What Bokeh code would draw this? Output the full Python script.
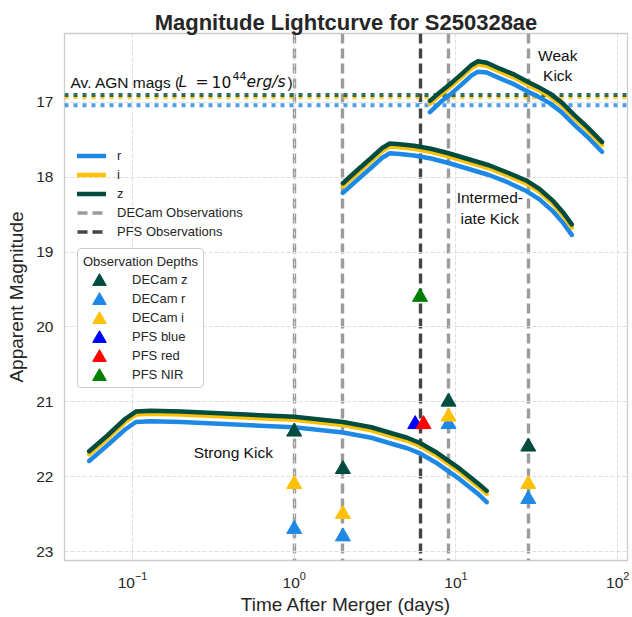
from bokeh.plotting import figure
from bokeh.models import Range1d, Span, Label, Legend, LegendItem, FixedTicker
from bokeh.embed import file_html
from bokeh.resources import INLINE

# ---------------- data ----------------
strong_t = [0.054, 0.07, 0.09, 0.105, 0.13, 0.2, 0.4, 1.0, 2.0, 3.0, 4.0, 5.0, 6.0, 7.5, 9.0, 10.5, 12.0, 13.7, 15.5]
strong_z = [21.66, 21.45, 21.23, 21.13, 21.12, 21.13, 21.16, 21.20, 21.27, 21.34, 21.42, 21.48, 21.55, 21.67, 21.79, 21.89, 21.99, 22.09, 22.19]
strong_i = [21.70, 21.49, 21.27, 21.17, 21.16, 21.17, 21.20, 21.24, 21.31, 21.38, 21.46, 21.52, 21.59, 21.71, 21.83, 21.93, 22.03, 22.13, 22.23]
strong_r = [21.79, 21.58, 21.37, 21.27, 21.26, 21.27, 21.30, 21.34, 21.41, 21.48, 21.56, 21.62, 21.69, 21.81, 21.93, 22.03, 22.13, 22.23, 22.34]

inter_t = [2.0, 2.5, 3.0, 3.5, 3.9, 4.5, 5.5, 7.0, 9.0, 12.0, 16.0, 21.0, 27.0, 33.0, 40.0, 46.0, 52.0]
inter_z = [18.08, 17.89, 17.74, 17.61, 17.55, 17.56, 17.58, 17.62, 17.68, 17.76, 17.84, 17.94, 18.04, 18.16, 18.32, 18.47, 18.63]
inter_i = [18.12, 17.93, 17.78, 17.65, 17.59, 17.60, 17.62, 17.66, 17.72, 17.80, 17.88, 17.98, 18.08, 18.20, 18.36, 18.51, 18.67]
inter_r = [18.21, 18.02, 17.87, 17.74, 17.68, 17.69, 17.71, 17.75, 17.81, 17.89, 17.97, 18.07, 18.18, 18.30, 18.46, 18.61, 18.77]

weak_t = [6.9, 8.0, 9.5, 11.0, 12.5, 13.7, 15.5, 18.7, 23.0, 27.0, 32.0, 38.0, 45.0, 54.0, 65.0, 80.0]
weak_z = [16.98, 16.86, 16.73, 16.61, 16.50, 16.45, 16.47, 16.55, 16.63, 16.71, 16.79, 16.88, 17.00, 17.17, 17.33, 17.53]
weak_i = [17.02, 16.90, 16.77, 16.65, 16.54, 16.49, 16.51, 16.59, 16.67, 16.75, 16.83, 16.92, 17.04, 17.21, 17.37, 17.57]
weak_r = [17.13, 17.00, 16.87, 16.75, 16.64, 16.59, 16.60, 16.68, 16.76, 16.84, 16.92, 17.01, 17.13, 17.30, 17.46, 17.66]

agn_z, agn_i, agn_r = 16.90, 16.93, 17.04

decam_t = [1.0, 2.0, 9.0, 28.0]
decam_z = [21.4, 21.9, 21.0, 21.6]
decam_r = [22.7, 22.8, 21.3, 22.3]
decam_i = [22.1, 22.5, 21.2, 22.1]

pfs_obs_t = [6.0]
pfs_blue_t, pfs_blue_m = [5.6], [21.3]
pfs_red_t, pfs_red_m = [6.3], [21.3]
pfs_nir_t, pfs_nir_m = [6.0], [19.6]

x_ticks = [0.1, 1, 10, 100]
y_ticks = [17, 18, 19, 20, 21, 22, 23]

# ---------------- style ----------------
C_R, C_I, C_Z = "#1E88E5", "#FFC107", "#004D40"
FONT = "Liberation Sans"
MATH = "DejaVu Sans"
TXT = "#262626"

p = figure(width=632, height=617, x_axis_type="log",
           x_range=Range1d(0.038, 115), y_range=Range1d(23.12, 16.08),
           output_backend="svg", toolbar_location=None,
           min_border_left=64, min_border_right=5, min_border_top=33, min_border_bottom=54)

p.title.text = "Magnitude Lightcurve for S250328ae"
p.title.text_font = FONT
p.title.text_font_size = "22px"
p.title.text_font_style = "bold"
p.title.text_color = TXT
p.title.align = "center"
p.title.standoff = -2

p.outline_line_color = "#cccccc"
p.outline_line_width = 1.3
p.background_fill_color = "white"

p.xaxis.ticker = FixedTicker(ticks=x_ticks)
p.yaxis.ticker = FixedTicker(ticks=y_ticks)
for ax in (p.xaxis[0], p.yaxis[0]):
    ax.axis_line_color = None
    ax.major_tick_line_color = None
    ax.minor_tick_line_color = None
    ax.major_tick_out = 0
    ax.major_tick_in = 0
    ax.minor_tick_out = 0
    ax.minor_tick_in = 0
    ax.major_label_text_font = FONT
    ax.major_label_text_font_size = "15.5px"
    ax.major_label_text_color = TXT
    ax.axis_label_text_font = FONT
    ax.axis_label_text_font_size = "19px"
    ax.axis_label_text_font_style = "normal"
    ax.axis_label_text_color = TXT
p.xaxis.axis_label = "Time After Merger (days)"
p.yaxis.axis_label = "Apparent Magnitude"
p.xaxis.major_label_standoff = 11
p.xaxis.axis_label_standoff = 3
p.yaxis.major_label_standoff = 11
p.yaxis.axis_label_standoff = 6

p.grid.grid_line_color = "#dedede"
p.grid.grid_line_dash = "4 2"
p.grid.grid_line_width = 1

# horizontal AGN lines
for m, c in ((agn_r, C_R), (agn_i, C_I), (agn_z, C_Z)):
    p.add_layout(Span(location=m, dimension="width", line_color=c, line_width=4,
                      line_alpha=0.8, line_dash="4 5", level="underlay"))

# vertical observation lines (glyphs, so they can appear in the legend)
DEC_COL, PFS_COL = "#9c9c9c", "#454545"
dec_lines = p.vspan(x=decam_t, line_color=DEC_COL, line_width=3.4, line_dash="10 5", level="underlay")
pfs_lines = p.vspan(x=pfs_obs_t, line_color=PFS_COL, line_width=3.4, line_dash="10 5", level="underlay")

# light curves
lines = {}
for t, rr, ii, zz in ((strong_t, strong_r, strong_i, strong_z),
                      (inter_t, inter_r, inter_i, inter_z),
                      (weak_t, weak_r, weak_i, weak_z)):
    lines["r"] = p.line(t, rr, line_color=C_R, line_width=4.5, line_cap="round", line_join="round")
    lines["i"] = p.line(t, ii, line_color=C_I, line_width=4.5, line_cap="round", line_join="round")
    lines["z"] = p.line(t, zz, line_color=C_Z, line_width=4.5, line_cap="round", line_join="round")

# observation depth markers
TS = 15
s_dz = p.scatter(decam_t, decam_z, marker="triangle", size=TS, color=C_Z)
s_dr = p.scatter(decam_t, decam_r, marker="triangle", size=TS, color=C_R)
s_di = p.scatter(decam_t, decam_i, marker="triangle", size=TS, color=C_I)
s_pb = p.scatter(pfs_blue_t, pfs_blue_m, marker="triangle", size=TS, color="#0000ff")
s_pr = p.scatter(pfs_red_t, pfs_red_m, marker="triangle", size=TS, color="#ff0000")
s_pn = p.scatter(pfs_nir_t, pfs_nir_m, marker="triangle", size=TS, color="#008000")

# text annotations
def lab(x, y, text, align="center", font=FONT, size="15.5px", style="normal",
        xo=0, yo=0, baseline="middle"):
    p.add_layout(Label(x=x, y=y, text=text, text_font=font, text_font_size=size,
                       text_font_style=style, text_color="#111111", text_align=align,
                       text_baseline=baseline, x_offset=xo, y_offset=yo))

lab(42.6, 16.51, "Weak\nKick")
lab(16.2, 18.41, "Intermed-\niate Kick")
lab(0.42, 21.68, "Strong Kick")

# AGN label, composed of pieces (plain + math-style italics + superscript)
ax0, ay0 = 0.0414, 16.73
lab(ax0, ay0, "Av. AGN mags (", align="left")
lab(ax0, ay0, "L", align="left", font=MATH, style="italic", xo=108)
lab(ax0, ay0, "=", align="left", font=MATH, xo=125)
lab(ax0, ay0, "10", align="left", font=MATH, xo=141)
lab(ax0, ay0, "44", align="left", font=MATH, size="11px", xo=162, yo=6)
lab(ax0, ay0, "erg/s", align="left", font=MATH, style="italic", xo=176)
lab(ax0, ay0, ")", align="left", xo=217)

# legend 1 (lines)
leg1 = Legend(items=[LegendItem(label="r", renderers=[lines["r"]]),
                     LegendItem(label="i", renderers=[lines["i"]]),
                     LegendItem(label="z", renderers=[lines["z"]]),
                     LegendItem(label="DECam Observations", renderers=[dec_lines]),
                     LegendItem(label="PFS Observations", renderers=[pfs_lines])],
              location=(13, 321), glyph_width=29, glyph_height=15, label_height=15,
              spacing=4, label_standoff=11, padding=0, margin=0,
              border_line_alpha=0, background_fill_alpha=0,
              label_text_font=FONT, label_text_font_size="13px", label_text_color=TXT)
p.add_layout(leg1)

# legend 2 (markers): frame/title/labels legend + two glyph-only legends for larger keys
labels2 = ["DECam z", "DECam r", "DECam i", "PFS blue", "PFS red", "PFS NIR"]
rends2 = [s_dz, s_dr, s_di, s_pb, s_pr, s_pn]
dummies = [p.scatter([], [], marker="triangle", size=1, alpha=0) for _ in rends2]
leg2 = Legend(items=[LegendItem(label=l, renderers=[d]) for l, d in zip(labels2, dummies)],
              title="Observation Depths", title_text_font=FONT, title_text_font_size="13px",
              title_text_font_style="normal", title_text_color=TXT, title_standoff=3,
              location=(13, 172), glyph_width=34, glyph_height=15, label_height=15,
              spacing=4, label_standoff=15, padding=5, margin=0,
              border_line_color="#cccccc", border_line_width=1.2, border_line_alpha=1,
              background_fill_color="white", background_fill_alpha=0.85,
              label_text_font=FONT, label_text_font_size="13px", label_text_color=TXT)
if "border_radius" in Legend.properties():
    leg2.border_radius = 4
p.add_layout(leg2)

for k, yloc in ((0, 184.5), (1, 165.5)):
    sub = Legend(items=[LegendItem(label=" ", renderers=[rends2[j]]) for j in range(k, 6, 2)],
                 location=(18, yloc), glyph_width=34, glyph_height=38, label_height=15,
                 spacing=0, label_standoff=0, padding=0, margin=0,
                 border_line_alpha=0, background_fill_alpha=0, label_text_alpha=0,
                 label_text_font_size="13px")
    p.add_layout(sub)

open("out.html", "w").write(file_html(p, INLINE))
